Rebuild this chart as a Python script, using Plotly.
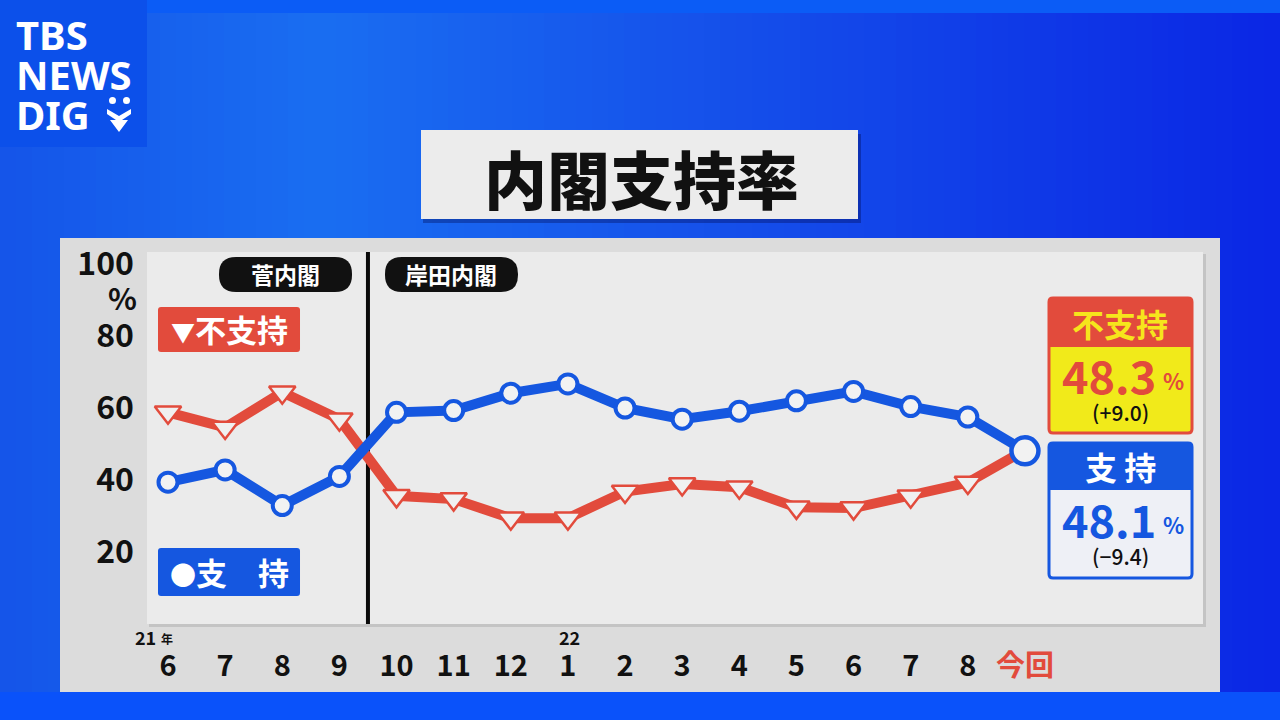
import plotly.graph_objects as go

# ---------------- data ----------------
months = ["6", "7", "8", "9", "10", "11", "12", "1", "2", "3", "4", "5", "6", "7", "8", "今回"]
support = [39.4, 42.8, 32.9, 41.0, 58.8, 59.3, 64.1, 66.7, 60.0, 56.9, 59.1, 62.0, 64.6, 60.4, 57.5, 48.1]
nonsupport = [58.8, 54.6, 64.4, 56.9, 35.6, 34.7, 29.4, 29.4, 36.8, 38.9, 38.0, 32.4, 32.2, 35.5, 39.3, 48.3]
ytick_vals = [20, 40, 60, 80, 100]
cabinet_split = 3.5  # between 9 (Suga) and 10 (Kishida)

W, H = 1280, 720
FONT = "Noto Sans CJK JP"
RED = "#e24b3c"
BLUE = "#1557e0"


def fx(px):
    return px / W


def fy(py):
    return 1 - py / H


shapes = []
annotations = []


def rect(x0, y0, x1, y1, fill, line_color=None, line_width=0, layer="below"):
    shapes.append(dict(type="rect", xref="paper", yref="paper",
                       x0=fx(x0), x1=fx(x1), y0=fy(y1), y1=fy(y0),
                       fillcolor=fill, layer=layer,
                       line=dict(color=line_color or fill, width=line_width)))


def rrect(x0, y0, x1, y1, r, fill, line_color=None, line_width=0, layer="below"):
    pts = [
        ("M", x0 + r, y0), ("L", x1 - r, y0), ("Q", x1, y0, x1, y0 + r),
        ("L", x1, y1 - r), ("Q", x1, y1, x1 - r, y1), ("L", x0 + r, y1),
        ("Q", x0, y1, x0, y1 - r), ("L", x0, y0 + r), ("Q", x0, y0, x0 + r, y0),
    ]
    parts = []
    for p in pts:
        cmd = p[0]
        coords = p[1:]
        s = []
        for i in range(0, len(coords), 2):
            s.append(f"{fx(coords[i]):.5f},{fy(coords[i + 1]):.5f}")
        parts.append(cmd + " ".join(s))
    path = " ".join(parts) + " Z"
    shapes.append(dict(type="path", xref="paper", yref="paper", path=path,
                       fillcolor=fill, layer=layer,
                       line=dict(color=line_color or fill, width=line_width)))


def text(px, py, s, size, color="#111", weight="bold", xanchor="center", family=FONT, height=None):
    a = dict(xref="paper", yref="paper", x=fx(px), y=fy(py), text=s,
             showarrow=False, xanchor=xanchor, yanchor="middle", borderpad=0,
             font=dict(family=family, size=size, color=color, weight=weight))
    if height is not None:
        a["height"] = height
    annotations.append(a)


# ---------------- background ----------------
stops = [(0, (0x15, 0x55, 0xe9)), (320, (0x1a, 0x6e, 0xf2)), (700, (0x16, 0x52, 0xeb)), (1280, (0x0b, 0x27, 0xe5))]
N = 80
for i in range(N):
    xa = i * W / N
    xb = (i + 1) * W / N + 0.8
    xm = (xa + xb) / 2
    for j in range(len(stops) - 1):
        if stops[j][0] <= xm <= stops[j + 1][0]:
            t = (xm - stops[j][0]) / (stops[j + 1][0] - stops[j][0])
            c = tuple(int(stops[j][1][k] + t * (stops[j + 1][1][k] - stops[j][1][k])) for k in range(3))
            break
    rect(xa, 0, xb, 720, "rgb(%d,%d,%d)" % c)

rect(0, 0, 1280, 13, "#0b5cf6")
rect(0, 692, 1280, 720, "#0a52fa")

# logo
rect(0, 0, 147, 147, "#0c50ea")
text(15, 34, "TBS", 40, "white", "bold", "left", "Noto Sans", 38)
text(15, 74, "NEWS", 40, "white", "bold", "left", "Noto Sans", 38)
text(15, 114, "DIG", 40, "white", "bold", "left", "Noto Sans", 38)
shapes.append(dict(type="circle", xref="paper", yref="paper", x0=fx(109), x1=fx(116), y0=fy(104), y1=fy(97),
                   fillcolor="white", line=dict(width=0)))
shapes.append(dict(type="circle", xref="paper", yref="paper", x0=fx(123), x1=fx(130), y0=fy(104), y1=fy(97),
                   fillcolor="white", line=dict(width=0)))
shapes.append(dict(type="path", xref="paper", yref="paper",
                   path=f"M{fx(107)},{fy(109)} L{fx(119)},{fy(116)} L{fx(131)},{fy(109)} L{fx(131)},{fy(114)} "
                        f"L{fx(122)},{fy(120)} L{fx(128)},{fy(120)} L{fx(119)},{fy(132)} L{fx(110)},{fy(120)} "
                        f"L{fx(116)},{fy(120)} L{fx(107)},{fy(114)} Z",
                   fillcolor="white", line=dict(width=0)))

# title box
rect(423, 134, 861, 223, "rgba(0,10,80,0.35)")
rect(421, 130, 858, 219, "#ececec")
text(641, 176, "内閣支持率", 63, "#111", 900)

# panel
rect(60, 238, 1220, 692, "#dcdcdc")
rect(149, 254, 1206, 627, "#c4c4c4")
rect(147, 252, 1203, 624, "#ebebeb")

# cabinet pills
rrect(219, 257, 352, 292, 17, "#111111")
text(285, 274, "菅内閣", 23, "white")
rrect(385, 257, 518, 292, 17, "#111111")
text(451, 274, "岸田内閣", 23, "white")

# legend boxes
rrect(158, 307, 300, 352, 3, RED)
text(229, 329, "<span style='font-size:24px'>▼</span>不支持", 31, "white")
rrect(158, 548, 300, 596, 3, BLUE)
text(229, 571, "<span style='font-size:26px'>●</span>支　持", 31, "white")

# % under 100
text(122, 297, "%", 30, "#111", "bold")
# year markers
text(145, 637, "21", 18, "#111", "bold", height=16)
text(167, 638, "年", 12, "#111", "bold", height=14)
text(569, 637, "22", 18, "#111", "bold", height=16)

# right callouts
ns_last = nonsupport[-1]
ns_diff = nonsupport[-1] - nonsupport[-2]
s_last = support[-1]
s_diff = support[-1] - support[-2]


def fmt_diff(d):
    return "(+%.1f)" % d if d >= 0 else "(−%.1f)" % abs(d)


rrect(1049, 298, 1192, 433, 4, "#f1ea1a", RED, 3)
rrect(1049, 298, 1192, 347, 4, RED)
rect(1049, 340, 1192, 347, RED)
text(1120, 323, "不支持", 32, "#f6e51c")
text(1109, 374, "%.1f" % ns_last, 45, RED, "bold", height=42)
text(1173, 380, "%", 22, RED, "bold")
text(1120, 412, fmt_diff(ns_diff), 21, "#111", 500, height=24)

rrect(1049, 443, 1192, 578, 4, "#eef0f6", BLUE, 3)
rrect(1049, 443, 1192, 490, 4, BLUE)
rect(1049, 484, 1192, 490, BLUE)
text(1120, 466, "支 持", 32, "white")
text(1109, 518, "%.1f" % s_last, 45, BLUE, "bold", height=42)
text(1173, 524, "%", 22, BLUE, "bold")
text(1120, 556, fmt_diff(s_diff), 21, "#111", 500, height=24)

# cabinet split line (data coordinates)
shapes.append(dict(type="line", xref="x", yref="y domain", x0=cabinet_split, x1=cabinet_split, y0=0, y1=1,
                   line=dict(color="#0a0a0a", width=4), layer="below"))

# ---------------- traces ----------------
x_idx = list(range(len(months)))
fig = go.Figure()
fig.add_trace(go.Scatter(
    x=x_idx, y=nonsupport, mode="lines+markers",
    line=dict(color=RED, width=10),
    marker=dict(symbol="triangle-down", size=23, color="#f0f0f0", opacity=1,
                line=dict(color=RED, width=2.5)),
    showlegend=False))
fig.add_trace(go.Scatter(
    x=x_idx, y=support, mode="lines+markers",
    line=dict(color=BLUE, width=10),
    marker=dict(symbol="circle", size=[19] * (len(support) - 1) + [27], color="#f2f2f2", opacity=1,
                line=dict(color=BLUE, width=[4] * (len(support) - 1) + [4.5])),
    showlegend=False))

ticktext = [m if m != "今回" else "<span style='color:%s'>%s</span>" % (RED, m) for m in months]
step = 57.13
fig.update_layout(
    width=W, height=H, margin=dict(l=0, r=0, t=0, b=0, pad=0, autoexpand=False),
    paper_bgcolor="#1a5ef0", plot_bgcolor="rgba(0,0,0,0)",
    shapes=shapes, annotations=annotations, showlegend=False,
    xaxis=dict(domain=[fx(147), fx(1203)], range=[-(168 - 147) / step, (1203 - 168) / step],
               tickvals=x_idx, ticktext=ticktext, showgrid=False, zeroline=False, showline=False,
               ticks="", ticklabelstandoff=22, automargin=False,
               tickfont=dict(family=FONT, size=29, color="#111", weight="bold")),
    yaxis=dict(domain=[fy(624), fy(252)], range=[0, (624 - 252) / 3.6],
               tickvals=ytick_vals, ticktext=[str(v) for v in ytick_vals], automargin=False,
               showgrid=False, zeroline=False, showline=False, ticks="", ticklabelstandoff=12,
               tickfont=dict(family=FONT, size=32, color="#111", weight="bold")),
)
fig.write_html(
    "out.html",
    config={"displayModeBar": False},
    post_script="document.body.style.margin='0';document.body.style.overflow='hidden';"
                "document.documentElement.style.overflow='hidden';",
)
